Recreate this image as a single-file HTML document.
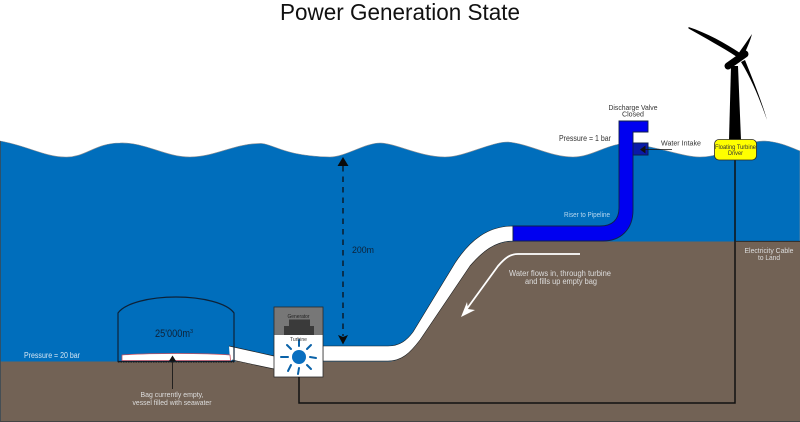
<!DOCTYPE html>
<html><head><meta charset="utf-8"><style>
html,body{margin:0;padding:0;background:#fff;width:800px;height:422px;overflow:hidden}
svg{display:block}
text{font-family:"Liberation Sans",sans-serif}
</style></head><body>
<svg width="800" height="422" viewBox="0 0 800 422" xmlns="http://www.w3.org/2000/svg">
<rect width="800" height="422" fill="#fff"/>
<!-- ocean -->
<path d="M0 141 C25 145 45 157 65 157 C85 158 95 143 120 143 C145 142 165 157 190 157 C215 157 235 143 262 143.500 C275 145 285 156 330 157 C345 157 365 143 380 143 C395 143 420 157 445 157 C465 157 490 142 508 142 C530 144 550 157 573 157 C590 157 605 146 620 144 C650 143 680 157 700 157 C725 157 740 141 765 141 C780 142 790 147 800 151 L800 365 L0 365 Z" fill="#006ebc" stroke="#8a8f94" stroke-width="0.6"/>
<!-- ground -->
<path d="M0 361.500 L388 361.500 C402 361 410 353 420 340 L470 266 C482 252 495 241.500 513 241.500 L800 241.500 L800 422 L0 422 Z" fill="#726255"/>
<line x1="0.400" y1="141" x2="0.400" y2="422" stroke="#3a4a55" stroke-width="0.8"/>
<line x1="0" y1="421.500" x2="800" y2="421.500" stroke="#444" stroke-width="1"/>
<!-- white pipe -->
<path d="M323 346 L388 346 C400 346 407 340 413 332 L455 263 C470 240 488 226 513 226 L513 241 C495 241 482 252 470 266 L420 340 C410 353 402 361 388 361 L323 361 Z" fill="#fff" stroke="#1a1a1a" stroke-width="0.6"/>
<path d="M229 346 L274 356 L274 369 L230 360 Z" fill="#fff"/>
<path d="M229 346 L274 356 M232 360 L274 369" stroke="#222" stroke-width="0.7" fill="none"/>
<!-- blue pipe -->
<path d="M513 226 L600 226 C612 226 619 220 619 208 L619 121 L648 121 L648 132 L633 132 L633 143 L648 143 L648 155 L633 155 L633 210 C633 230 620 241 603 241 L513 241 Z" fill="#0000f0" stroke="#10204a" stroke-width="0.9"/>
<rect x="633" y="143" width="15" height="12" fill="#0a1aa8" stroke="#10204a" stroke-width="0.9"/>
<!-- vessel -->
<path d="M118 361.500 L118 313 C125 303 150 297 176 297 C202 297 227 303 234 313 L234 361.500 Z" fill="none" stroke="#0d2238" stroke-width="1.200"/>
<path d="M118 362 L234 362" stroke="#111" stroke-width="1" stroke-dasharray="1.500 1"/>
<path d="M122 355 C150 353 205 353 230 355 L230.500 360.500 L122 360.500 Z" fill="#fff" stroke="#c8505e" stroke-width="0.8"/>
<!-- bag arrow -->
<line x1="172.500" y1="389" x2="172.500" y2="360" stroke="#1a1a1a" stroke-width="0.9"/>
<path d="M172.500 355.500 L176 361 L169 361 Z" fill="#111"/>
<!-- turbine -->
<rect x="274" y="307" width="49" height="28" fill="#777"/>
<rect x="274" y="335" width="49" height="42" fill="#fff"/>
<rect x="274" y="307" width="49" height="70" fill="none" stroke="#2a2a2a" stroke-width="0.8"/>
<rect x="289" y="319.500" width="21" height="6.500" fill="#3a3a3a"/>
<rect x="284" y="326" width="30" height="9" fill="#3a3a3a"/>
<circle cx="299" cy="357" r="7" fill="#0a6fc0"/>
<g stroke="#0a62a8" stroke-width="2" stroke-linecap="round">
<line x1="310" y1="357" x2="316" y2="358"/>
<line x1="307" y1="365" x2="311" y2="369"/>
<line x1="299" y1="368" x2="298" y2="374"/>
<line x1="291" y1="365" x2="288" y2="371"/>
<line x1="288" y1="357" x2="281" y2="357"/>
<line x1="291" y1="349" x2="287" y2="345"/>
<line x1="299" y1="346" x2="299" y2="340"/>
<line x1="307" y1="349" x2="311" y2="345"/>
</g>
<!-- cable -->
<path d="M299 377 L299 403 L735 403 L735 160" fill="none" stroke="#111" stroke-width="1.500"/>
<line x1="735" y1="241.300" x2="800" y2="241.300" stroke="#222" stroke-width="0.9"/>
<!-- dashed depth arrow -->
<line x1="343" y1="166" x2="343" y2="336" stroke="#0b1b2b" stroke-width="1.500" stroke-dasharray="5.500 5"/>
<path d="M343 157 L348.500 166 L337.500 166 Z" fill="#0a0a0a"/>
<path d="M343 344.500 L338 335 L343 337 L348 335 Z" fill="#0a0a0a"/>
<!-- white flow arrow -->
<path d="M580 254 L518 254 C510 254 505 258 498 266 L466 310" fill="none" stroke="#fff" stroke-width="1.800"/>
<path d="M461 317 L467 302 L468 309 L475 310 Z" fill="#fff"/>
<!-- intake arrow -->
<line x1="672" y1="149.500" x2="642" y2="149.500" stroke="#111" stroke-width="0.8"/>
<path d="M640 149.500 L645.500 145.500 L645.500 153.500 Z" fill="#111"/>
<!-- wind turbine -->
<path d="M731 66 L738 66 L741 140 L729 140 Z" fill="#000"/>
<line x1="728" y1="66" x2="745" y2="54" stroke="#000" stroke-width="7" stroke-linecap="round"/>
<path d="M688.500 27 C707 33 725 43 740 53 L737 57 C722 47 705 38 688.500 28.500 Z" fill="#000"/>
<path d="M752 34 C750 42 746 50 743 57 L738 54 C743 47 748 40 752 34 Z" fill="#000"/>
<path d="M767 120 C760 100 752 80 741 62 L745 60 C753 80 762 102 767 120 Z" fill="#000"/>
<!-- buoy -->
<rect x="714.500" y="139.500" width="42" height="20.500" rx="4.500" fill="#ffff00" stroke="#2a2a2a" stroke-width="0.8"/>
<!-- labels -->
<text x="400" y="20" text-anchor="middle" font-size="23" fill="#111" textLength="240" lengthAdjust="spacingAndGlyphs">Power Generation State</text>
<text x="24" y="358" font-size="8" fill="#d5e6f3" textLength="56" lengthAdjust="spacingAndGlyphs">Pressure = 20 bar</text>
<text x="155" y="337" font-size="11" fill="#0d2238" textLength="35" lengthAdjust="spacingAndGlyphs">25'000m</text>
<text x="190" y="333" font-size="5.500" fill="#0d2238">3</text>
<text x="172" y="397" text-anchor="middle" font-size="7.500" fill="#ddd" textLength="63" lengthAdjust="spacingAndGlyphs">Bag currently empty,</text>
<text x="172" y="405" text-anchor="middle" font-size="7.500" fill="#ddd" textLength="79" lengthAdjust="spacingAndGlyphs">vessel filled with seawater</text>
<text x="298.500" y="318" text-anchor="middle" font-size="5" fill="#222" textLength="22" lengthAdjust="spacingAndGlyphs">Generator</text>
<text x="298.500" y="341" text-anchor="middle" font-size="5.500" fill="#333" textLength="17" lengthAdjust="spacingAndGlyphs">Turbine</text>
<text x="352" y="253" font-size="9" fill="#0d2238" textLength="22" lengthAdjust="spacingAndGlyphs">200m</text>
<text x="560" y="276" text-anchor="middle" font-size="8" fill="#ddd" textLength="102" lengthAdjust="spacingAndGlyphs">Water flows in, through turbine</text>
<text x="561" y="284" text-anchor="middle" font-size="8" fill="#ddd" textLength="72" lengthAdjust="spacingAndGlyphs">and fills up empty bag</text>
<text x="587" y="217" text-anchor="middle" font-size="7" fill="#b8d8ef" textLength="46" lengthAdjust="spacingAndGlyphs">Riser  to Pipeline</text>
<text x="769" y="253" text-anchor="middle" font-size="7.500" fill="#ddd" textLength="49" lengthAdjust="spacingAndGlyphs">Electricity Cable</text>
<text x="769" y="260" text-anchor="middle" font-size="7.500" fill="#ddd" textLength="22" lengthAdjust="spacingAndGlyphs">to Land</text>
<text x="633" y="110" text-anchor="middle" font-size="7.500" fill="#333" textLength="49" lengthAdjust="spacingAndGlyphs">Discharge Valve</text>
<text x="633" y="116.500" text-anchor="middle" font-size="7.500" fill="#333" textLength="22" lengthAdjust="spacingAndGlyphs">Closed</text>
<text x="559" y="141" font-size="8" fill="#333" textLength="52" lengthAdjust="spacingAndGlyphs">Pressure = 1 bar</text>
<text x="661" y="145.500" font-size="7.500" fill="#333" textLength="40" lengthAdjust="spacingAndGlyphs">Water Intake</text>
<text x="735.500" y="149" text-anchor="middle" font-size="6.500" fill="#333" textLength="41" lengthAdjust="spacingAndGlyphs">Floating Turbine</text>
<text x="735.500" y="155" text-anchor="middle" font-size="6.500" fill="#333" textLength="15" lengthAdjust="spacingAndGlyphs">Driver</text>
</svg>
</body></html>
